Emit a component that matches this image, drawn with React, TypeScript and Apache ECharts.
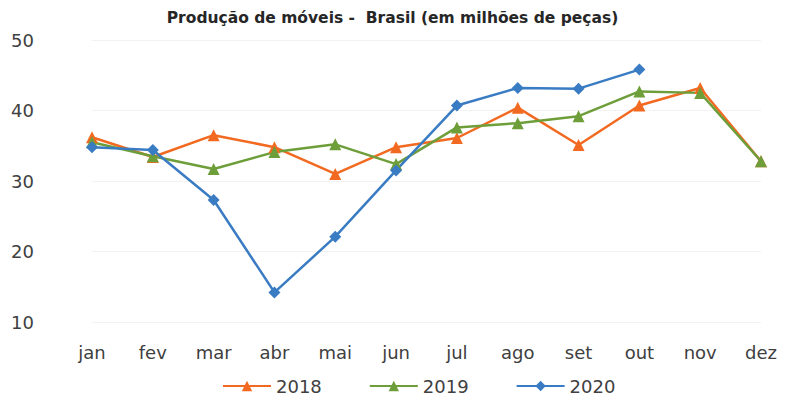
import React, { useEffect, useRef } from "react";
import * as echarts from "echarts";

const months = ["jan", "fev", "mar", "abr", "mai", "jun", "jul", "ago", "set", "out", "nov", "dez"];
const s2018 = [36.2, 33.4, 36.5, 34.8, 31.0, 34.8, 36.1, 40.4, 35.1, 40.7, 43.2, 32.8];
const s2019 = [35.5, 33.5, 31.7, 34.1, 35.2, 32.4, 37.6, 38.2, 39.2, 42.7, 42.5, 32.8];
const s2020 = [34.8, 34.4, 27.3, 14.2, 22.1, 31.5, 40.7, 43.2, 43.1, 45.8, null, null];

const FONT = "'DejaVu Sans', sans-serif";

export default function App() {
  const ref = useRef<HTMLDivElement>(null);
  useEffect(() => {
    const chart = echarts.init(ref.current!, null, { renderer: "svg" });
    const mk = (name: string, data: any[], color: string, symbol: string, size: number) => ({
      name,
      type: "line",
      data,
      symbol,
      symbolSize: size,
      lineStyle: { color, width: 2.5 },
      itemStyle: { color },
      connectNulls: false,
    });
    chart.setOption({
      animation: false,
      backgroundColor: "#ffffff",
      title: {
        text: "Produção de móveis -  Brasil (em milhões de peças)",
        left: "center",
        top: 2,
        padding: 0,
        textStyle: { fontFamily: FONT, fontSize: 15.5, fontWeight: "bold", color: "#262626" },
      },
      legend: {
        top: 364,
        left: 209,
        itemWidth: 48,
        itemHeight: 13,
        itemGap: 47,
        textStyle: { fontFamily: FONT, fontSize: 18, color: "#404040" },
        data: ["2018", "2019", "2020"],
      },
      grid: { left: 84, right: 16, top: 32, bottom: 77, outerBoundsMode: "none" },
      xAxis: {
        type: "category",
        data: months,
        boundaryGap: false,
        axisLine: { show: false },
        axisTick: { show: false },
        axisLabel: { fontFamily: FONT, fontSize: 18, color: "#404040", margin: 21 },
      },
      yAxis: {
        type: "value",
        min: 10,
        max: 50,
        interval: 10,
        axisLine: { show: false },
        axisTick: { show: false },
        splitLine: { lineStyle: { color: "#f2f2f2" } },
        axisLabel: { fontFamily: FONT, fontSize: 18, color: "#404040", margin: 58 },
      },
      series: [
        mk("2018", s2018, "#F26A21", "triangle", 12),
        mk("2019", s2019, "#6E9E3A", "triangle", 12),
        mk("2020", s2020, "#3A7CC3", "diamond", 12),
      ],
    });
    return () => chart.dispose();
  }, []);
  return <div ref={ref} style={{ width: 769, height: 391 }} />;
}
